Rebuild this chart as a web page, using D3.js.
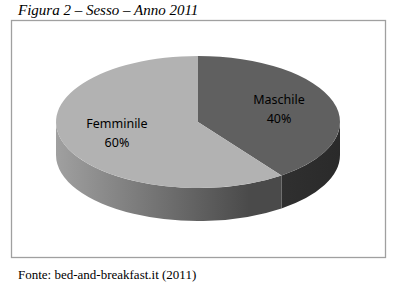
<!DOCTYPE html>
<html>
<head>
<meta charset="utf-8">
<script src="https://d3js.org/d3.v7.min.js"></script>
<style>
  body { margin: 0; background: #fff; }
</style>
</head>
<body>
<script>
// data
var categories = ["Maschile", "Femminile"];
var values = [40, 60];
var percentLabels = ["40%", "60%"];

var topColors = ["#606060", "#b2b2b2"];
var sideDark = ["#2a2a2a", "#4a4a4a"];
var sideLight = ["#353535", "#a0a0a0"];

var width = 398, height = 296;

var svg = d3.select("body").append("svg")
    .attr("width", width)
    .attr("height", height);

// title
svg.append("text")
    .attr("x", 18)
    .attr("y", 15)
    .style("font-family", "'Liberation Serif', 'Times New Roman', serif")
    .style("font-style", "italic")
    .style("font-size", "15px")
    .attr("fill", "#000")
    .text("Figura 2 \u2013 Sesso \u2013 Anno 2011");

// frame
svg.append("rect")
    .attr("x", 11.5)
    .attr("y", 20.5)
    .attr("width", 374)
    .attr("height", 237)
    .attr("fill", "#fff")
    .attr("stroke", "#a0a0a0")
    .attr("stroke-width", 1.3);

// footer
svg.append("text")
    .attr("x", 18)
    .attr("y", 279)
    .style("font-family", "'Liberation Serif', 'Times New Roman', serif")
    .style("font-size", "13px")
    .attr("fill", "#000")
    .text("Fonte: bed-and-breakfast.it (2011)");

// pie geometry (3d ellipse)
var cx = 198, cy = 122, rx = 142, ry = 66, depth = 33;

function pt(a, r) {
    return [cx + rx * r * Math.sin(a), cy - ry * r * Math.cos(a)];
}

var pie = d3.pie().sort(null).value(function(d) { return d; });
var arcs = pie(values);

var defs = svg.append("defs");
arcs.forEach(function(d, i) {
    var g = defs.append("linearGradient")
        .attr("id", "side" + i)
        .attr("gradientUnits", "userSpaceOnUse")
        .attr("x1", cx - rx).attr("x2", cx + rx)
        .attr("y1", 0).attr("y2", 0);
    if (i === 1) {
        g.append("stop").attr("offset", "0%").attr("stop-color", sideLight[i]);
        g.append("stop").attr("offset", "68%").attr("stop-color", sideDark[i]);
    } else {
        g.append("stop").attr("offset", "60%").attr("stop-color", sideLight[i]);
        g.append("stop").attr("offset", "100%").attr("stop-color", sideDark[i]);
    }
});

// side walls (only the front half is visible)
arcs.forEach(function(d, i) {
    var a0 = Math.max(d.startAngle, Math.PI / 2);
    var a1 = Math.min(d.endAngle, 3 * Math.PI / 2);
    if (a1 <= a0) return;
    var p0 = pt(a0, 1), p1 = pt(a1, 1);
    var path = "M" + p0[0] + "," + p0[1] +
        " A" + rx + "," + ry + " 0 0 1 " + p1[0] + "," + p1[1] +
        " L" + p1[0] + "," + (p1[1] + depth) +
        " A" + rx + "," + ry + " 0 0 0 " + p0[0] + "," + (p0[1] + depth) +
        " Z";
    svg.append("path")
        .attr("d", path)
        .attr("fill", "url(#side" + i + ")");
});

// top faces
arcs.forEach(function(d, i) {
    var p0 = pt(d.startAngle, 1), p1 = pt(d.endAngle, 1);
    var large = (d.endAngle - d.startAngle) > Math.PI ? 1 : 0;
    var path = "M" + cx + "," + cy +
        " L" + p0[0] + "," + p0[1] +
        " A" + rx + "," + ry + " 0 " + large + " 1 " + p1[0] + "," + p1[1] +
        " Z";
    svg.append("path")
        .attr("d", path)
        .attr("fill", topColors[i]);
});

// labels
arcs.forEach(function(d, i) {
    var mid = (d.startAngle + d.endAngle) / 2;
    var p = pt(mid, 0.6);
    var t = svg.append("text")
        .attr("x", p[0])
        .attr("y", p[1] - 6)
        .attr("text-anchor", "middle")
        .style("font-family", "'Noto Sans', 'Open Sans', sans-serif")
        .style("font-size", "12.5px")
        .attr("fill", "#000");
    t.append("tspan").attr("x", p[0]).text(categories[i]);
    t.append("tspan").attr("x", p[0]).attr("dy", 19).text(percentLabels[i]);
});
</script>
</body>
</html>
